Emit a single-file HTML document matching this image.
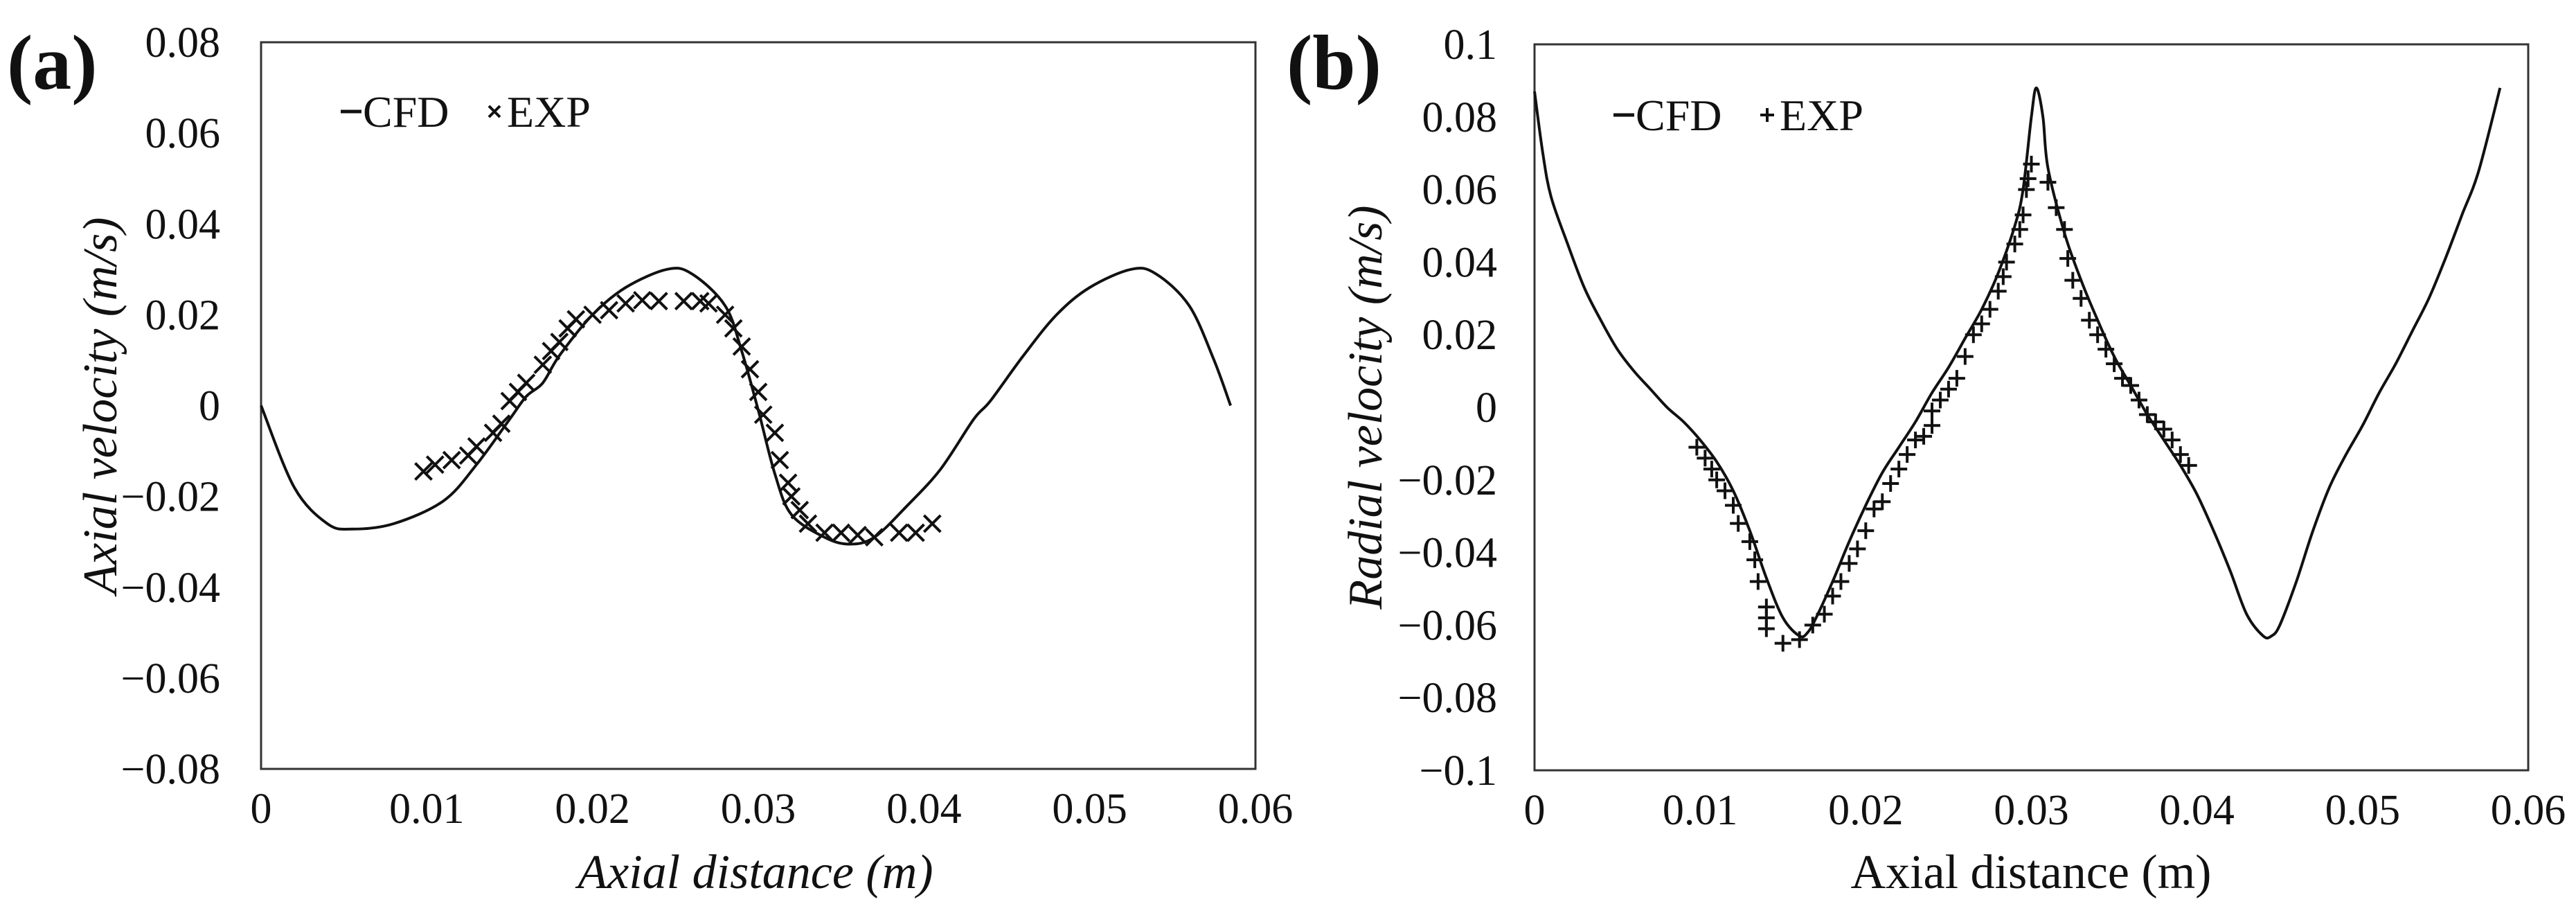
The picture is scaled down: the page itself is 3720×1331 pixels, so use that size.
<!DOCTYPE html>
<html><head><meta charset="utf-8"><style>
html,body{margin:0;padding:0;background:#fff}
svg{display:block}
text{font-family:"Liberation Serif",serif;fill:#111}
</style></head><body>
<svg id="fig" width="3720" height="1331" viewBox="0 0 3720 1331" xmlns="http://www.w3.org/2000/svg"></svg>
<script>
const xTicks=[0,0.01,0.02,0.03,0.04,0.05,0.06];
const xTickLabels=["0","0.01","0.02","0.03","0.04","0.05","0.06"];
const yTicksA=[0.08,0.06,0.04,0.02,0,-0.02,-0.04,-0.06,-0.08];
const yTickLabelsA=["0.08","0.06","0.04","0.02","0","\u22120.02","\u22120.04","\u22120.06","\u22120.08"];
const yTicksB=[0.1,0.08,0.06,0.04,0.02,0,-0.02,-0.04,-0.06,-0.08,-0.1];
const yTickLabelsB=["0.1","0.08","0.06","0.04","0.02","0","\u22120.02","\u22120.04","\u22120.06","\u22120.08","\u22120.1"];
const cfdAx=[0,0.002,0.004,0.0055,0.008,0.011,0.013,0.015,0.016,0.017,0.018,0.02,0.022,0.0245,0.026,0.028,0.029,0.03,0.031,0.032,0.034,0.0355,0.037,0.039,0.041,0.043,0.044,0.046,0.048,0.05,0.0525,0.054,0.056,0.0575,0.0585];
const cfdAy=[0,-0.018,-0.026,-0.0272,-0.026,-0.021,-0.013,-0.003,0.002,0.005,0.011,0.02,0.026,0.03,0.029,0.022,0.012,-0.001,-0.015,-0.024,-0.029,-0.0305,-0.029,-0.022,-0.014,-0.003,0.001,0.011,0.02,0.026,0.03,0.029,0.022,0.01,0];
const expAx=[0.0098,0.0105,0.0115,0.0125,0.013,0.014,0.0145,0.015,0.0155,0.016,0.017,0.0175,0.018,0.0185,0.019,0.02,0.021,0.022,0.023,0.024,0.0255,0.0265,0.027,0.028,0.0285,0.029,0.0295,0.03,0.0303,0.031,0.0313,0.0318,0.032,0.0325,0.033,0.034,0.035,0.036,0.037,0.0385,0.0395,0.0405];
const expAy=[-0.0145,-0.013,-0.012,-0.011,-0.009,-0.006,-0.004,0.001,0.003,0.005,0.009,0.012,0.014,0.017,0.019,0.02,0.021,0.0225,0.0232,0.023,0.023,0.023,0.0225,0.02,0.017,0.013,0.008,0.003,-0.002,-0.006,-0.012,-0.017,-0.02,-0.023,-0.026,-0.028,-0.028,-0.0285,-0.029,-0.028,-0.028,-0.026];
const cfdBx=[0,0.0005,0.001,0.002,0.003,0.004,0.005,0.006,0.007,0.008,0.009,0.01,0.011,0.012,0.013,0.014,0.015,0.016,0.0165,0.017,0.018,0.019,0.02,0.021,0.022,0.023,0.024,0.025,0.026,0.027,0.028,0.029,0.0295,0.03,0.0303,0.0307,0.031,0.032,0.033,0.034,0.035,0.036,0.037,0.038,0.039,0.04,0.041,0.042,0.043,0.044,0.0445,0.045,0.046,0.047,0.048,0.049,0.05,0.051,0.052,0.053,0.054,0.055,0.056,0.057,0.0583];
const cfdBy=[0.087,0.07,0.058,0.045,0.033,0.024,0.016,0.01,0.005,0,-0.004,-0.009,-0.015,-0.023,-0.034,-0.047,-0.058,-0.063,-0.062,-0.058,-0.048,-0.037,-0.027,-0.018,-0.011,-0.004,0.004,0.011,0.019,0.027,0.037,0.05,0.06,0.08,0.088,0.08,0.066,0.048,0.035,0.024,0.014,0.006,-0.002,-0.009,-0.016,-0.024,-0.034,-0.045,-0.057,-0.063,-0.063,-0.06,-0.048,-0.034,-0.022,-0.013,-0.005,0.004,0.012,0.021,0.03,0.041,0.053,0.065,0.088];
const expBx=[0.0098,0.0103,0.0107,0.011,0.0115,0.012,0.0123,0.013,0.0133,0.0135,0.014,0.014,0.014,0.015,0.016,0.0168,0.0175,0.018,0.0185,0.019,0.0195,0.02,0.0205,0.021,0.0215,0.022,0.0225,0.023,0.0235,0.024,0.024,0.0245,0.025,0.0255,0.026,0.0265,0.027,0.0275,0.028,0.0283,0.0285,0.029,0.0293,0.0295,0.0297,0.0298,0.03,0.031,0.0315,0.032,0.0322,0.0325,0.033,0.0335,0.034,0.0345,0.035,0.0355,0.036,0.0365,0.037,0.0375,0.038,0.0385,0.039,0.0395];
const expBy=[-0.011,-0.014,-0.017,-0.02,-0.023,-0.027,-0.032,-0.037,-0.042,-0.048,-0.055,-0.058,-0.061,-0.065,-0.064,-0.06,-0.057,-0.052,-0.048,-0.043,-0.039,-0.034,-0.028,-0.026,-0.021,-0.017,-0.013,-0.009,-0.008,-0.005,-0.001,0.002,0.005,0.008,0.014,0.02,0.023,0.027,0.032,0.036,0.04,0.045,0.049,0.053,0.06,0.063,0.067,0.062,0.055,0.049,0.041,0.035,0.03,0.024,0.02,0.016,0.012,0.008,0.006,0.002,-0.002,-0.004,-0.006,-0.009,-0.013,-0.016];

const NS="http://www.w3.org/2000/svg";
const svg=document.getElementById('fig');
function el(tag,attrs,parent){const e=document.createElementNS(NS,tag);for(const k in attrs)e.setAttribute(k,attrs[k]);(parent||svg).appendChild(e);return e;}

function smoothPath(pts){
  let d='M'+pts[0][0].toFixed(1)+','+pts[0][1].toFixed(1);
  for(let i=0;i<pts.length-1;i++){
    const p0=pts[Math.max(i-1,0)],p1=pts[i],p2=pts[i+1],p3=pts[Math.min(i+2,pts.length-1)];
    const c1x=p1[0]+(p2[0]-p0[0])/6,c1y=p1[1]+(p2[1]-p0[1])/6;
    const c2x=p2[0]-(p3[0]-p1[0])/6,c2y=p2[1]-(p3[1]-p1[1])/6;
    d+=`C${c1x.toFixed(1)},${c1y.toFixed(1)} ${c2x.toFixed(1)},${c2y.toFixed(1)} ${p2[0].toFixed(1)},${p2[1].toFixed(1)}`;
  }
  return d;
}

function panel(o){
  const g=el('g',{});
  
  
  const sx=v=>o.L+(v-0)/(0.06)*(o.R-o.L);
  const sy=v=>o.T+(o.ymax-v)/(o.ymax-o.ymin)*(o.B-o.T);
  const box=el('rect',{x:o.L,y:o.T,width:o.R-o.L,height:o.B-o.T,fill:'none',stroke:'#333','stroke-width':3},g);
  
  
  o.yt.forEach((v,i)=>{
    const t=el('text',{x:o.ylabX,y:sy(v)+21,'text-anchor':'end','font-size':62},g);
    t.textContent=o.ytl[i];
    
    
  });
  xTicks.forEach((v,i)=>{
    const t=el('text',{x:sx(v),y:o.B+78,'text-anchor':'middle','font-size':62},g);
    t.textContent=xTickLabels[i];
    
    
  });
  const xt=el('text',{x:o.xtX,y:1282,'text-anchor':'middle','font-size':70,'font-style':o.xItalic?'italic':'normal'},g);
  xt.textContent='Axial distance (m)';
  
  
  const yt=el('text',{x:0,y:0,'text-anchor':'middle','font-size':70,'font-style':'italic',transform:`translate(${o.ytX},${(o.T+o.B)/2}) rotate(-90)`},g);
  yt.textContent=o.ytitle;
  
  
  const pl=el('text',{x:o.plX,y:128,'font-size':112,'font-weight':'bold'},g);
  pl.textContent=o.plabel;
  
  
  const pts=o.cx.map((v,i)=>[sx(v),sy(o.cy[i])]);
  const line=el('path',{d:smoothPath(pts),fill:'none',stroke:'#111','stroke-width':4,'stroke-linejoin':'round'},g);
  
  
  const s=12;
  o.ex.forEach((v,i)=>{
    const x=sx(v),y=sy(o.ey[i]);
    const m=o.cross?`M${x-s},${y-s}L${x+s},${y+s}M${x-s},${y+s}L${x+s},${y-s}`:`M${x-s},${y}L${x+s},${y}M${x},${y-s}L${x},${y+s}`;
    const p=el('path',{d:m,stroke:'#111','stroke-width':4,fill:'none'},g);
    
    
  });
  const lg=el('g',{},g);
  
  
  el('line',{x1:o.lgX,y1:o.lgY,x2:o.lgX+30,y2:o.lgY,stroke:'#111','stroke-width':5},lg);
  const t1=el('text',{x:o.lgX+32,y:o.lgY+22,'font-size':64},lg);t1.textContent='CFD';
  
  
  const mx=o.lgX+222,my=o.lgY,ms=8;
  el('path',{d:o.cross?`M${mx-ms},${my-ms}L${mx+ms},${my+ms}M${mx-ms},${my+ms}L${mx+ms},${my-ms}`:`M${mx-ms-2},${my}L${mx+ms+2},${my}M${mx},${my-ms-2}L${mx},${my+ms+2}`,stroke:'#111','stroke-width':4},lg);
  const t2=el('text',{x:mx+18,y:o.lgY+22,'font-size':64},lg);t2.textContent='EXP';
  
  
}

panel({name:'panel-a',L:377,R:1813,T:61,B:1110,ymax:0.08,ymin:-0.08,yt:yTicksA,ytl:yTickLabelsA,ylabX:318,xtX:1091,xItalic:true,ytX:168,ytitle:'Axial velocity (m/s)',plX:10,plabel:'(a)',cx:cfdAx,cy:cfdAy,ex:expAx,ey:expAy,cross:true,lgX:492,lgY:161});
panel({name:'panel-b',L:2216,R:3651,T:64,B:1112,ymax:0.1,ymin:-0.1,yt:yTicksB,ytl:yTickLabelsB,ylabX:2162,xtX:2933,xItalic:false,ytX:1995,ytitle:'Radial velocity (m/s)',plX:1858,plabel:'(b)',cx:cfdBx,cy:cfdBy,ex:expBx,ey:expBy,cross:false,lgX:2330,lgY:166});
</script>
</body></html>
